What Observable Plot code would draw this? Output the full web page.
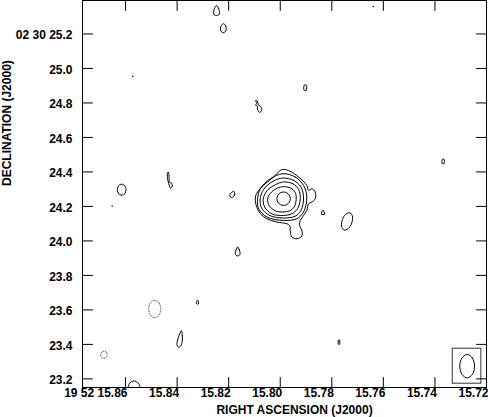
<!DOCTYPE html>
<html><head><meta charset="utf-8">
<script src="https://cdn.jsdelivr.net/npm/d3@7"></script>
<script src="https://cdn.jsdelivr.net/npm/@observablehq/plot@0.6"></script>
<style>body{margin:0;background:#fff}</style>
</head><body><div id="chart"></div>
<script>
// Axis ticks (RA seconds of time after 19h52m, Dec arcsec after +02d30m)
const raTicks = [15.86, 15.84, 15.82, 15.80, 15.78, 15.76, 15.74, 15.72];
const raTickLabels = ["19 52 15.86", "15.84", "15.82", "15.80", "15.78", "15.76", "15.74", "15.72"];
const decTicks = [25.2, 25.0, 24.8, 24.6, 24.4, 24.2, 24.0, 23.8, 23.6, 23.4, 23.2];
const decTickLabels = ["02 30 25.2", "25.0", "24.8", "24.6", "24.4", "24.2", "24.0", "23.8", "23.6", "23.4", "23.2"];
const raDomain = [15.8767, 15.72];
const decDomain = [23.150, 25.394];

// Main source: centre and contour rings as offsets in mas (x: west, y: north)
const mainCenter = [15.7987, 24.2446];
const mainRings = [
  [[0,170],[39,159],[87,126],[135,77],[145,48],[164,58],[184,39],[184,0],[164,-19],[145,-29],[135,-68],[116,-97],[97,-126],[93,-155],[106,-184],[106,-217],[77,-232],[48,-222],[39,-193],[35,-155],[19,-145],[-39,-135],[-97,-116],[-135,-87],[-159,-39],[-164,10],[-145,48],[-106,87],[-58,126],[-19,164]],
  [[-4,145],[68,126],[116,77],[135,10],[116,-77],[77,-116],[0,-126],[-97,-106],[-145,-58],[-151,0],[-135,58],[-77,116]],
  [[-4,120],[58,106],[101,68],[116,4],[101,-68],[68,-101],[0,-112],[-81,-97],[-128,-54],[-136,0],[-116,54],[-62,101]],
  [[0,97],[54,87],[87,54],[97,0],[81,-58],[48,-87],[0,-97],[-68,-88],[-110,-48],[-118,0],[-95,48],[-48,81]],
  [[0,70],[48,58],[70,29],[73,-4],[62,-48],[35,-70],[-4,-77],[-48,-70],[-85,-38],[-92,4],[-70,39],[-35,62]],
  [[39,0],[34,19],[19,34],[0,39],[-19,34],[-34,19],[-39,0],[-34,-19],[-19,-34],[0,-39],[19,-34],[34,-19]]
];

// Small positive contours: [ra, dec, offsets in mas]
const smallContours = [
  [15.8247, 25.336, [[0,29],[12,12],[17,-12],[12,-26],[0,-29],[-12,-26],[-17,-12],[-12,12]]],
  [15.8221, 25.2336, [[0,26],[12,17],[17,0],[12,-20],[0,-26],[-12,-20],[-17,0],[-10,17]]],
  [15.7903, 24.888, [[6,15],[6,-15],[-6,-15],[-6,15]]],
  [15.8084, 24.780, [[-17,35],[-6,29],[0,6],[12,0],[17,-23],[6,-35],[-6,-17],[-6,0],[-17,6],[-12,17]]],
  [15.7368, 24.461, [[5,12],[5,-12],[-5,-12],[-5,12]]],
  [15.8615, 24.297, [[25,0],[18,23],[0,32],[-18,23],[-25,0],[-18,-23],[0,-32],[18,-23]]],
  [15.8429, 24.351, [[-12,46],[-6,46],[-3,12],[0,-12],[12,-17],[15,-35],[6,-46],[0,-35],[-6,-17],[-12,12]]],
  [15.8188, 24.270, [[12,17],[17,0],[6,-17],[-6,-17],[-12,-6],[-6,6]]],
  [15.7834, 24.167, [[0,12],[9,-12],[-9,-12]]],
  [15.7741, 24.113, [[18,50],[32,28],[27,-10],[7,-42],[-18,-50],[-32,-28],[-27,10],[-7,42]]],
  [15.8165, 23.939, [[0,26],[9,9],[14,-12],[9,-23],[0,-26],[-9,-23],[-14,-12],[-9,9]]],
  [15.8321, 23.645, [[0,12],[7,-6],[0,-12],[-7,-6]]],
  [15.8390, 23.432, [[10,48],[15,17],[15,-12],[6,-41],[-6,-48],[-16,-35],[-12,-6],[0,29]]],
  [15.8567, 23.145, [[35,0],[25,30],[0,43],[-25,30],[-35,0],[-25,-30],[0,-43],[25,-30]]],
  [15.7772, 23.413, [[3,12],[3,-12],[-3,-12],[-3,12]]]
];
// Negative (dashed) contours
const negContours = [
  [15.8487, 23.605, [[35,0],[25,35],[0,50],[-25,35],[-35,0],[-25,-35],[0,-50],[25,-35]]],
  [15.8684, 23.340, [[19,0],[13,15],[0,21],[-13,15],[-19,0],[-13,-15],[0,-21],[13,-15]]]
];
// Isolated single-pixel peaks
const dotRA = [15.7639, 15.8572, 15.8652];
const dotDec = [25.359, 24.955, 24.202];

// Restoring beam
const beamCenter = [15.7275, 23.2736];
const beamShape = [[43,0],[30,48],[0,68],[-30,48],[-43,0],[-30,-48],[0,-68],[30,-48]];
const beamBoxRA = [15.7331, 15.7220];
const beamBoxDec = [23.172, 23.375];

const k = 1 / (15 * Math.cos((2 + 30/60 + 24.5/3600) * Math.PI / 180)) / 1000; // s of RA per mas
let rows = [], negRows = [];
function addContour(target, ra0, dec0, pts, id) {
  for (const [dx, dy] of pts) target.push({id, ra: ra0 - dx * k, dec: dec0 + dy / 1000});
}
mainRings.forEach((r, i) => addContour(rows, mainCenter[0], mainCenter[1], r, "m" + i));
smallContours.forEach(([ra, dec, p], i) => addContour(rows, ra, dec, p, "s" + i));
addContour(rows, beamCenter[0], beamCenter[1], beamShape, "beam");
negContours.forEach(([ra, dec, p], i) => addContour(negRows, ra, dec, p, "n" + i));

const tickShape = {draw(ctx, l) { ctx.moveTo(0, 0); ctx.lineTo(0, -l); }};
const tick = (data, opts) => Plot.vector(data, {anchor: "start", length: 10, shape: tickShape, stroke: "black", strokeWidth: 1, ...opts});

const chart = Plot.plot({
  width: 488, height: 417,
  marginLeft: 82, marginRight: 2, marginTop: 0, marginBottom: 30,
  style: {fontFamily: "'Liberation Sans', Arial, sans-serif", fontSize: "12px", fontWeight: "bold", background: "#fff"},
  x: {domain: raDomain, axis: null},
  y: {domain: decDomain, axis: null},
  marks: [
    Plot.line(rows, {x: "ra", y: "dec", z: "id", curve: "catmull-rom-closed", stroke: "black", strokeWidth: 1, clip: true}),
    Plot.line(negRows, {x: "ra", y: "dec", z: "id", curve: "catmull-rom-closed", stroke: "#444", strokeWidth: 0.9, strokeDasharray: "1,1.6", clip: true}),
    Plot.dot(dotRA.map((r, i) => ({ra: r, dec: dotDec[i]})), {x: "ra", y: "dec", r: 0.8, fill: "black", stroke: null}),
    Plot.rect([{x1: beamBoxRA[0], x2: beamBoxRA[1], y1: beamBoxDec[0], y2: beamBoxDec[1]}], {x1: "x1", x2: "x2", y1: "y1", y2: "y2", fill: "none", stroke: "#333", strokeWidth: 1}),
    Plot.frame({stroke: "black", strokeWidth: 1}),
    tick(raTicks, {x: d => d, frameAnchor: "bottom", rotate: 0}),
    tick(raTicks, {x: d => d, frameAnchor: "top", rotate: 180}),
    tick(decTicks, {y: d => d, frameAnchor: "left", rotate: 90}),
    tick(decTicks, {y: d => d, frameAnchor: "right", rotate: -90}),
    Plot.text(raTicks, {x: d => d, text: (d, i) => raTickLabels[i], frameAnchor: "bottom", textAnchor: "end", lineAnchor: "top", dx: 2, dy: 1, fill: "black"}),
    Plot.text(decTicks, {y: d => d, text: (d, i) => decTickLabels[i], frameAnchor: "left", textAnchor: "end", dx: -10, dy: 1.5, fill: "black"}),
    Plot.text(["RIGHT ASCENSION (J2000)"], {frameAnchor: "bottom", lineAnchor: "bottom", dx: 10, dy: 26, fill: "black"}),
    Plot.text(["DECLINATION (J2000)"], {frameAnchor: "left", rotate: -90, dx: -75, dy: -8, fill: "black"})
  ]
});
document.getElementById("chart").appendChild(chart);
</script>
</body></html>
